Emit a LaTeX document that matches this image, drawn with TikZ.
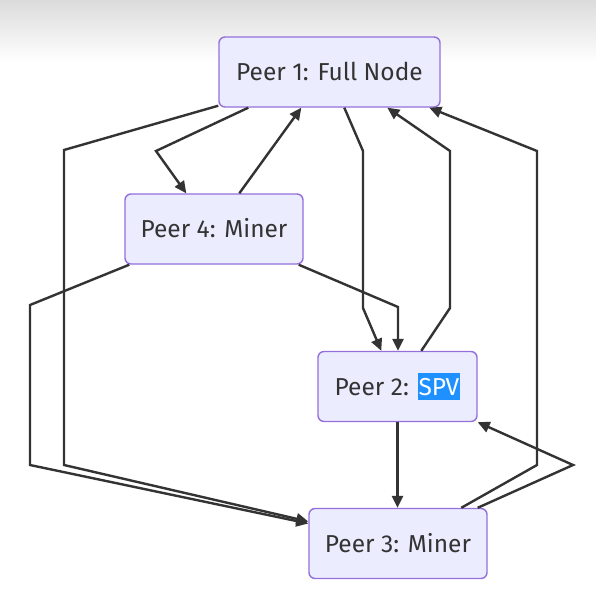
\documentclass[tikz,border=0pt]{standalone}
\usepackage{fontspec}
\setmainfont{Fira Sans}
\usepackage{xcolor}
\usepackage{tikz}
\usetikzlibrary{positioning, arrows.meta}

\definecolor{peerfill}{HTML}{ECECFF}
\definecolor{peerline}{HTML}{9370DB}
\definecolor{linkcol}{HTML}{333333}
\definecolor{selblue}{RGB}{30,144,255}

\newcommand{\selected}[1]{{\setlength{\fboxsep}{1pt}\colorbox{selblue}{\rule[-4pt]{0pt}{25pt}\color{white}#1}}}

\begin{document}
\begin{tikzpicture}[x=1pt, y=-1pt,
    every node/.style={font=\fontsize{24.5}{28}\selectfont, text=linkcol},
    peer/.style={draw=peerline, fill=peerfill, line width=1.4pt, rounded corners=6pt,
        minimum height=70pt, inner sep=0pt, text height=17pt, text depth=0pt},
    link/.style={draw=linkcol, line width=2.4pt, -{Triangle[length=12pt,width=11pt]}}]
    \fill[white] (0,0) rectangle (596,596);
    \shade[top color=black!14, bottom color=white] (0,0) rectangle (596,62);
    \path[use as bounding box] (0,0) rectangle (596,596);

    \node[peer, minimum width=221pt] (p1) at (329.5,72) {Peer 1: Full Node};
    \node[peer, minimum width=178pt] (p4) at (214,229) {Peer 4: Miner};
    \node[peer, minimum width=159pt] (p2) at (397.5,386.5) {Peer 2: \selected{SPV}};
    \node[peer, minimum width=178pt] (p3) at (398,543.5) {Peer 3: Miner};

    % bends of the links
    \coordinate (b14) at (156,151);
    \coordinate (b13a) at (64,150);
    \coordinate (b13b) at (64,465);
    \coordinate (b43a) at (30,305);
    \coordinate (b43b) at (30,465);
    \coordinate (b42) at (398,307);
    \coordinate (b12a) at (363,151);
    \coordinate (b12b) at (363,308);
    \coordinate (b21a) at (450,308);
    \coordinate (b21b) at (450,151);
    \coordinate (b31a) at (537,465);
    \coordinate (b31b) at (537,151);
    \coordinate (b32) at (573,465);

    \draw[link] ([xshift=30pt]p1.south west) -- (b14) -- ([xshift=62pt]p4.north west);
    \draw[link] ([xshift=115pt]p4.north west) -- ([xshift=83pt]p1.south west);
    \draw[link] ([yshift=2pt]p1.south west) -- (b13a) -- (b13b) -- ([yshift=22pt]p3.west);
    \draw[link] ([xshift=5pt]p4.south west) -- (b43a) -- (b43b) -- ([yshift=20pt]p3.west);
    \draw[link] ([xshift=-5pt]p4.south east) -- (b42) -- (b42 |- p2.north);
    \draw[link] ([xshift=126pt]p1.south west) -- (b12a) -- (b12b) -- ([xshift=64pt]p2.north west);
    \draw[link] ([xshift=104pt]p2.north west) -- (b21a) -- (b21b) -- ([xshift=169pt]p1.south west);
    \draw[link] ([xshift=153pt]p3.north west) -- (b31a) -- (b31b) -- ([xshift=211pt]p1.south west);
    \draw[link] (p2.south) -- (p2.south |- p3.north);
    \draw[link] ([xshift=-10pt]p3.north east) -- (b32) -- (p2.south east);
\end{tikzpicture}
\end{document}
